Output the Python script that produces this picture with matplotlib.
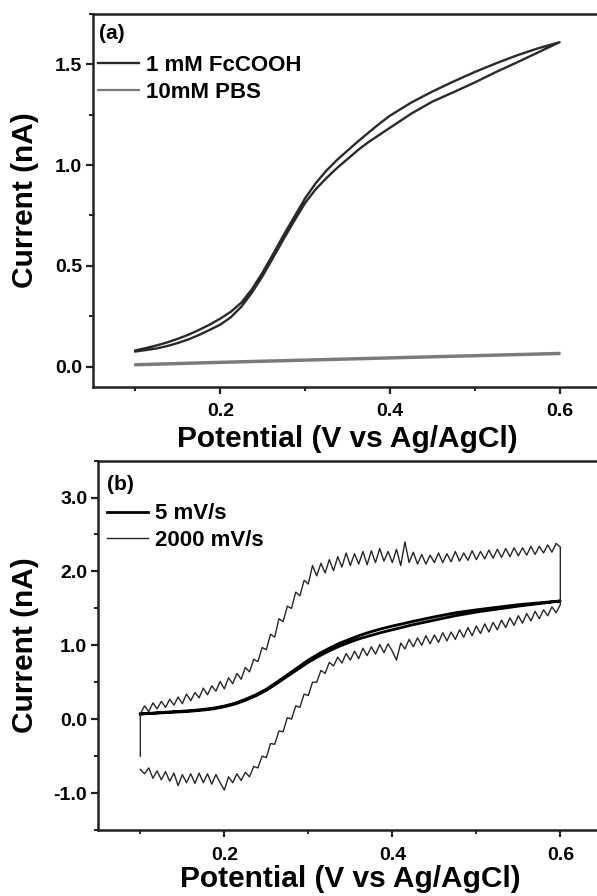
import numpy as np
import matplotlib
matplotlib.use("Agg")
import matplotlib.pyplot as plt
from matplotlib.ticker import MultipleLocator, FormatStrFormatter

plt.rcParams['font.family'] = ['Liberation Sans', 'DejaVu Sans']
plt.rcParams['font.weight'] = 'bold'
plt.rcParams['axes.unicode_minus'] = False

# ---- panel (a): 1 mM FcCOOH vs 10 mM PBS (slow CV, forward / reverse) ----
E_a = [0.100, 0.1125, 0.125, 0.1375, 0.150, 0.1625, 0.175, 0.1875, 0.200, 0.2125, 0.225,
       0.2375, 0.250, 0.2625, 0.275, 0.2875, 0.300, 0.3125, 0.325, 0.3375, 0.350, 0.3625,
       0.375, 0.3875, 0.400, 0.425, 0.450, 0.475, 0.500, 0.525, 0.550, 0.575, 0.600]
fc_fwd = [0.080, 0.092, 0.105, 0.120, 0.138, 0.158, 0.182, 0.208, 0.238, 0.272, 0.318,
          0.385, 0.468, 0.560, 0.655, 0.745, 0.835, 0.910, 0.972, 1.025, 1.072, 1.118,
          1.162, 1.205, 1.245, 1.310, 1.365, 1.415, 1.462, 1.505, 1.545, 1.580, 1.610]
fc_rev = [0.075, 0.082, 0.090, 0.102, 0.117, 0.135, 0.157, 0.182, 0.208, 0.245, 0.298,
          0.368, 0.450, 0.542, 0.635, 0.725, 0.812, 0.880, 0.935, 0.985, 1.030, 1.075,
          1.115, 1.150, 1.185, 1.255, 1.315, 1.362, 1.410, 1.462, 1.510, 1.560, 1.610]
E_pbs = [0.10, 0.20, 0.30, 0.40, 0.50, 0.60]
pbs_fwd = [0.012, 0.024, 0.035, 0.046, 0.057, 0.068]
pbs_rev = [0.006, 0.018, 0.029, 0.040, 0.051, 0.062]

# ---- panel (b): 5 mV/s vs 2000 mV/s ----
E_b = E_a
slow_fwd = [0.070, 0.080, 0.090, 0.100, 0.108, 0.118, 0.132, 0.150, 0.178, 0.215, 0.268,
            0.330, 0.405, 0.500, 0.600, 0.700, 0.800, 0.885, 0.960, 1.030, 1.085, 1.140,
            1.185, 1.225, 1.260, 1.325, 1.385, 1.440, 1.480, 1.515, 1.550, 1.575, 1.600]
slow_rev = [0.070, 0.077, 0.085, 0.093, 0.100, 0.110, 0.123, 0.140, 0.168, 0.203, 0.255,
            0.316, 0.390, 0.483, 0.580, 0.675, 0.770, 0.852, 0.925, 0.990, 1.045, 1.095,
            1.135, 1.175, 1.210, 1.280, 1.340, 1.400, 1.450, 1.490, 1.530, 1.565, 1.600]

# fast scan, sampled every 5 mV from 0.100 to 0.600 V
E_fast = [round(0.100 + 0.005 * i, 3) for i in range(101)]
fast_fwd = [0.07, 0.18, 0.10, 0.22, 0.14, 0.24, 0.16, 0.27, 0.19, 0.30,
            0.21, 0.34, 0.25, 0.36, 0.29, 0.42, 0.33, 0.45, 0.38, 0.51,
            0.41, 0.56, 0.48, 0.62, 0.54, 0.70, 0.64, 0.81, 0.78, 0.97,
            0.94, 1.15, 1.11, 1.36, 1.32, 1.53, 1.50, 1.72, 1.67, 1.88,
            1.83, 2.08, 1.94, 2.11, 1.98, 2.16, 2.01, 2.20, 2.06, 2.25,
            2.08, 2.24, 2.10, 2.27, 2.09, 2.28, 2.12, 2.31, 2.14, 2.27,
            2.12, 2.30, 2.08, 2.40, 2.12, 2.26, 2.10, 2.23, 2.10, 2.22,
            2.12, 2.25, 2.12, 2.24, 2.13, 2.27, 2.14, 2.25, 2.15, 2.28,
            2.16, 2.27, 2.17, 2.29, 2.18, 2.30, 2.19, 2.31, 2.20, 2.32,
            2.21, 2.32, 2.22, 2.34, 2.23, 2.34, 2.25, 2.36, 2.26, 2.38,
            2.33]
fast_rev = [-0.68, -0.74, -0.66, -0.80, -0.70, -0.82, -0.71, -0.84, -0.73, -0.90,
            -0.75, -0.86, -0.74, -0.87, -0.73, -0.86, -0.74, -0.88, -0.75, -0.86,
            -0.96, -0.78, -0.86, -0.74, -0.83, -0.72, -0.78, -0.64, -0.66, -0.50,
            -0.52, -0.33, -0.34, -0.16, -0.17, 0.02, 0.00, 0.18, 0.16, 0.34,
            0.32, 0.50, 0.50, 0.66, 0.62, 0.77, 0.72, 0.84, 0.76, 0.89,
            0.80, 0.92, 0.82, 0.96, 0.86, 0.98, 0.88, 1.01, 0.90, 1.02,
            0.92, 0.80, 1.03, 0.95, 1.08, 0.98, 1.10, 1.00, 1.13, 1.02,
            1.14, 1.04, 1.17, 1.06, 1.18, 1.08, 1.21, 1.11, 1.24, 1.13,
            1.26, 1.16, 1.29, 1.18, 1.31, 1.21, 1.34, 1.24, 1.37, 1.27,
            1.40, 1.30, 1.43, 1.33, 1.46, 1.36, 1.48, 1.40, 1.52, 1.44,
            1.55]
fast_start = -0.50   # current at 0.1 V before the scan starts


def loop(E, fwd, rev):
    x = list(E) + list(E)[::-1]
    y = list(fwd) + list(rev)[::-1]
    return x, y


def style_axes(ax, ylim, ymajor, yminor, lab_x, lab_y_x, lab_y_y):
    ax.set_xlim(0.05, 0.65)
    ax.set_ylim(*ylim)
    ax.xaxis.set_major_locator(MultipleLocator(0.2))
    ax.xaxis.set_minor_locator(MultipleLocator(0.1))
    ax.yaxis.set_major_locator(MultipleLocator(ymajor))
    ax.yaxis.set_minor_locator(MultipleLocator(yminor))
    ax.xaxis.set_major_formatter(FormatStrFormatter('%.1f'))
    ax.yaxis.set_major_formatter(FormatStrFormatter('%.1f'))
    ax.tick_params(which='major', direction='out', length=5, width=1.6,
                   labelsize=14, color='#222222')
    ax.tick_params(which='minor', direction='out', length=3, width=1.4,
                   color='#222222')
    ax.tick_params(axis='x', which='major', pad=7)
    ax.tick_params(axis='y', which='major', pad=3)
    for sp in ax.spines.values():
        sp.set_linewidth(1.8)
        sp.set_color('#222222')
    ax.set_xlabel('Potential (V vs Ag/AgCl)', fontsize=21.5, fontweight='bold', va='center')
    ax.xaxis.set_label_coords(0.5, lab_x)
    ax.set_ylabel('Current (nA)', fontsize=21.5, fontweight='bold', va='center')
    ax.yaxis.set_label_coords(lab_y_x, lab_y_y)


fig = plt.figure(figsize=(5.97, 8.96), dpi=100)

# panel (a)
ax1 = fig.add_axes([0.1558, 0.5684, 0.8526, 0.4160])
x, y = loop(E_a, fc_fwd, fc_rev)
ax1.plot(x, y, color='#2a2a2a', lw=1.7, label='1 mM FcCOOH')
x, y = loop(E_pbs, pbs_fwd, pbs_rev)
ax1.plot(x, y, color='#7a7a7a', lw=1.6, label='10mM PBS')
style_axes(ax1, (-0.1, 1.75), 0.5, 0.25, -0.140, -0.1330, 0.5)
ax1.text(0.012, 0.947, '(a)', transform=ax1.transAxes, fontsize=15,
         fontweight='bold', va='center', ha='left')
ax1.legend(loc='upper left', bbox_to_anchor=(0.010, 0.890), frameon=False,
           borderpad=0, borderaxespad=0, handlelength=1.85, handletextpad=0.3,
           labelspacing=0.25, prop={'size': 16, 'weight': 'bold'})

# panel (b)
ax2 = fig.add_axes([0.1647, 0.0737, 0.8442, 0.4122])
x, y = loop(E_b, slow_fwd, slow_rev)
ax2.plot(x, y, color='black', lw=2.0, label='5 mV/s')
fx = [E_fast[0]] + E_fast + E_fast[::-1]
fy = [fast_start] + fast_fwd + fast_rev[::-1]
ax2.plot(fx, fy, color='#262626', lw=1.0, label='2000 mV/s')
style_axes(ax2, (-1.5, 3.5), 1.0, 0.5, -0.133, -0.1450, 0.5)
ax2.text(0.018, 0.935, '(b)', transform=ax2.transAxes, fontsize=15,
         fontweight='bold', va='center', ha='left')
ax2.legend(loc='upper left', bbox_to_anchor=(0.017, 0.884), frameon=False,
           borderpad=0, borderaxespad=0, handlelength=1.85, handletextpad=0.3,
           labelspacing=0.25, prop={'size': 16, 'weight': 'bold'})

fig.savefig('out.png', dpi=100)
